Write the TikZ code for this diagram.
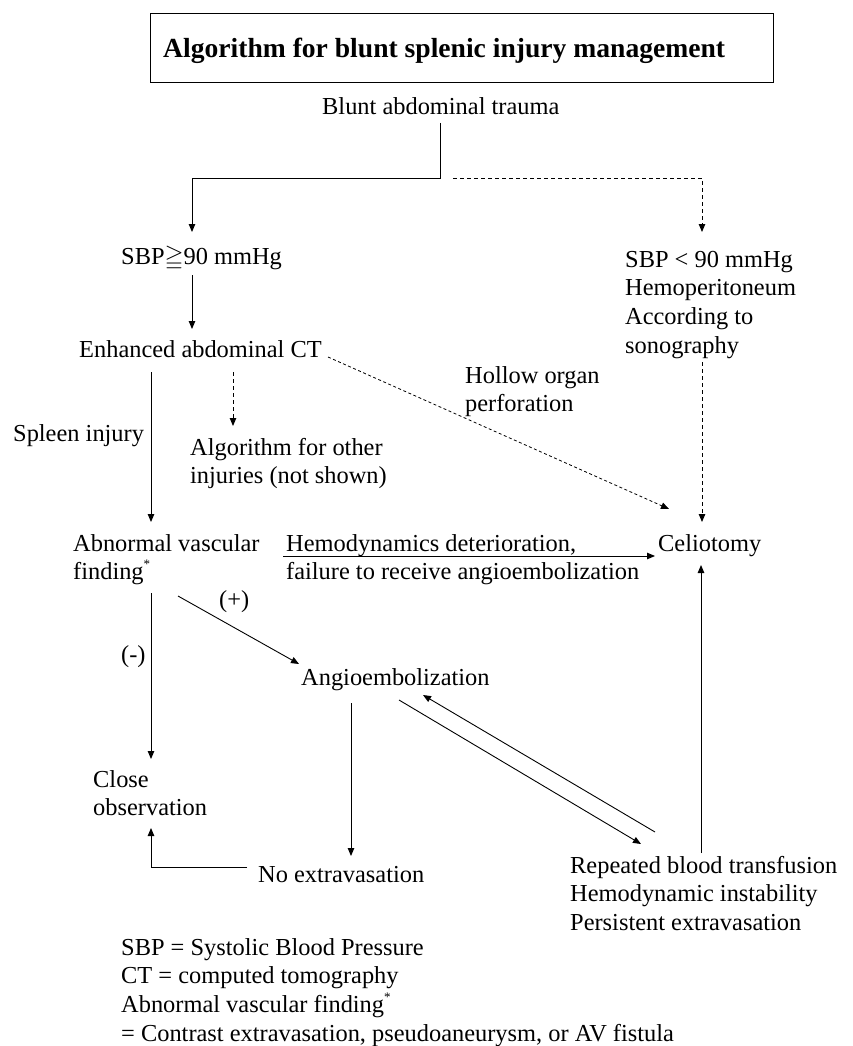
\documentclass[tikz,border=0pt]{standalone}
\usepackage{fontspec}
\setmainfont{Liberation Serif}
\usepackage{amssymb}
\usetikzlibrary{arrows.meta}
\newcommand{\mlines}[1]{\begin{tabular}[t]{@{}l@{}}#1\end{tabular}}
\newcommand{\astmark}{\raisebox{11pt}{\fontsize{13}{13}\selectfont *}}
\begin{document}
\begin{tikzpicture}[x=1pt,y=-1pt,
  txt/.style={inner sep=0pt, anchor=base west, font=\fontsize{24.4}{28.7}\selectfont},
  titletxt/.style={inner sep=0pt, anchor=base west, font=\fontsize{27.6}{32}\selectfont\bfseries},
  titlebox/.style={draw, line width=0.9pt, minimum width=623pt, minimum height=69pt, inner sep=0pt, anchor=center},
  arr/.style={line width=0.9pt, -{Triangle[length=8pt,width=6.5pt]}},
  darr/.style={arr, dash pattern=on 4pt off 3pt},
  dotarr/.style={arr, dash pattern=on 3pt off 2.5pt, line width=0.8pt}
]
\useasboundingbox (0,0) rectangle (852,1046);

% title
\node[titlebox] (tbox) at (461.5,47.5) {};
\node[titletxt] (title) at (163,58) {Algorithm for blunt splenic injury management};

% nodes
\node[txt] (blunt) at (322,115) {Blunt abdominal trauma};
\node[txt] (sbphi) at (121,264) {SBP$\geqq$90 mmHg};
\node[txt] (sbplo) at (625,267) {\mlines{SBP < 90 mmHg\\Hemoperitoneum\\According to\\sonography}};
\node[txt] (ct) at (79,357) {Enhanced abdominal CT};
\node[txt] (hollow) at (465,383) {\mlines{Hollow organ\\perforation}};
\node[txt] (spleen) at (13,441) {Spleen injury};
\node[txt] (other) at (190,455) {\mlines{Algorithm for other\\injuries (not shown)}};
\node[txt] (abn) at (73,551) {\mlines{Abnormal vascular\\finding\astmark}};
\node[txt] (hemo) at (286,551) {\mlines{Hemodynamics deterioration,\\failure to receive angioembolization}};
\node[txt] (celio) at (658,551) {Celiotomy};
\node[txt] (plus) at (219,607) {(+)};
\node[txt] (minus) at (121,662) {(-)};
\node[txt] (angio) at (301,685) {Angioembolization};
\node[txt] (close) at (93,787) {\mlines{Close\\observation}};
\node[txt] (noext) at (258,882) {No extravasation};
\node[txt] (rep) at (570,873) {\mlines{Repeated blood transfusion\\Hemodynamic instability\\Persistent extravasation}};
\node[txt] (foot) at (121,955) {\mlines{SBP = Systolic Blood Pressure\\CT = computed tomography\\Abnormal vascular finding\astmark\\= Contrast extravasation, pseudoaneurysm, or AV fistula}};

% connector end points
\coordinate (bluntS) at (440,123);
\coordinate (split) at (440,178);
\coordinate (splitR) at (453,178);
\coordinate (sbphiN) at (192,232);
\coordinate (sbploN) at (702,232);
\coordinate (sbphiS) at (192,275);
\coordinate (ctN) at (192,329);
\coordinate (ctS1) at (151,372);
\coordinate (ctS2) at (233,372);
\coordinate (ctE) at (328,357);
\coordinate (otherN) at (233,426);
\coordinate (celioNW) at (669,509);
\coordinate (sbploS) at (702,362);
\coordinate (celioN) at (702,522);
\coordinate (abnN) at (151,522);
\coordinate (abnE) at (283,556);
\coordinate (celioW) at (655,556);
\coordinate (abnSE) at (178,596);
\coordinate (angioNW) at (299,664);
\coordinate (abnS) at (151,593);
\coordinate (closeN) at (151,759);
\coordinate (angioS) at (351,703);
\coordinate (noextN) at (351,856);
\coordinate (noextW) at (247,867);
\coordinate (closeS) at (151,828);
\coordinate (angioSE) at (399,700);
\coordinate (repNW) at (641,844);
\coordinate (repNW2) at (655,832);
\coordinate (angioSE2) at (423,695);
\coordinate (repN) at (701,853);
\coordinate (celioS) at (701,565);

% connectors
\draw[arr] (bluntS) -- (split) -| (sbphiN);
\draw[darr] (splitR) -| (sbploN);
\draw[arr] (sbphiS) -- (ctN);
\draw[darr] (ctS2) -- (otherN);
\draw[dotarr] (ctE) -- (celioNW);
\draw[darr] (sbploS) -- (celioN);
\draw[arr] (ctS1) -- (abnN);
\draw[arr] (abnE) -- (celioW);
\draw[arr] (abnSE) -- (angioNW);
\draw[arr] (abnS) -- (closeN);
\draw[arr] (angioS) -- (noextN);
\draw[arr] (noextW) -| (closeS);
\draw[arr] (angioSE) -- (repNW);
\draw[arr] (repNW2) -- (angioSE2);
\draw[arr] (repN) -- (celioS);
\end{tikzpicture}
\end{document}
